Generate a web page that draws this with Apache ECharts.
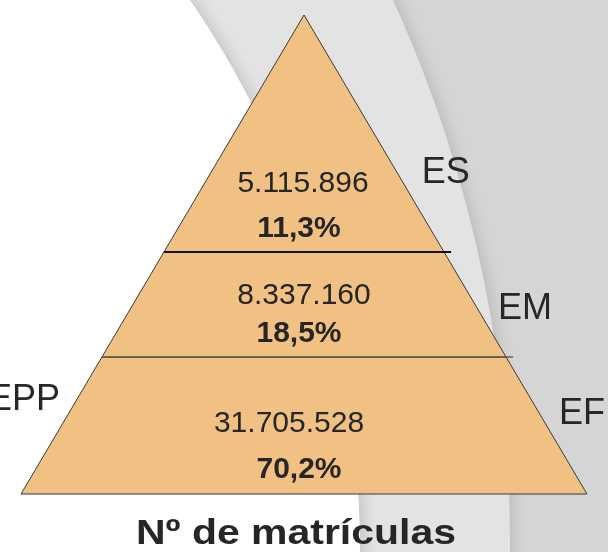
<!DOCTYPE html>
<html>
<head>
<meta charset="utf-8">
<script src="https://cdn.jsdelivr.net/npm/echarts@6/dist/echarts.min.js"></script>
<style>
  html, body { margin: 0; padding: 0; background: #fff; }
  #chart { width: 608px; height: 552px; }
</style>
</head>
<body>
<div id="chart"></div>
<script>
// levels from the base of the pyramid up
const levels = ['EF', 'EM', 'ES']
const enrolments = [31705528, 8337160, 5115896]
const shares = [70.2, 18.5, 11.3]
const leftLabel = 'EPP'
const chartTitle = 'Nº de matrículas'

// pyramid layout, in pyramid units (x: -1..1 at the base, y: 0 base .. 1 apex)
const bandTop = [0.286, 0.505, 1]
const valueY = [0.149, 0.4175, 0.65]
const shareY = [0.053, 0.338, 0.556]
const valueDx = [-15, 0, -1]
const sideY = [0.173, 0.392, 0.676]
const sideGap = [21, 22, 26]
const leftY = 0.2015

const fmtInt = n => String(n).replace(/\B(?=(\d{3})+(?!\d))/g, '.')
const fmtPct = v => v.toFixed(1).replace('.', ',') + '%'

const fill = '#F0C183'
const ink = '#262626'
const FONT = '"Liberation Sans", Arial, sans-serif'

function renderItem(params, api) {
  const i = api.value(0)
  const y0 = i ? bandTop[i - 1] : 0
  const y1 = bandTop[i]
  const pts = [[-(1 - y0), y0], [1 - y0, y0], [1 - y1, y1], [-(1 - y1), y1]].map(p => api.coord(p))
  const children = [{
    type: 'polygon',
    shape: { points: pts },
    style: { fill: fill, stroke: '#3a3a3a', lineWidth: 1 }
  }]
  if (i > 0) {
    // divider on the bottom edge, sticking out a bit on the right
    children.push({
      type: 'line',
      shape: { x1: pts[0][0], y1: pts[0][1], x2: pts[1][0] + 7, y2: pts[1][1] },
      style: i === 2 ? { stroke: '#111', lineWidth: 2 } : { stroke: '#6a5d4c', lineWidth: 1.5 }
    })
  }
  const cv = api.coord([0, valueY[i]])
  const cs = api.coord([0, shareY[i]])
  children.push({
    type: 'text',
    style: {
      text: fmtInt(enrolments[i]), x: cv[0] + valueDx[i], y: cv[1] + 1.5,
      align: 'center', verticalAlign: 'middle',
      font: 'normal 30px ' + FONT, fill: ink
    }
  })
  children.push({
    type: 'text',
    style: {
      text: fmtPct(shares[i]), x: cs[0] - 5, y: cs[1] + 1.5,
      align: 'center', verticalAlign: 'middle',
      font: 'bold 30px ' + FONT, fill: ink
    }
  })
  const sr = api.coord([1 - sideY[i], sideY[i]])
  children.push({
    type: 'text',
    style: {
      text: levels[i], x: sr[0] + sideGap[i], y: sr[1] + 2.5,
      align: 'left', verticalAlign: 'middle',
      font: 'normal 36px ' + FONT, fill: ink
    }
  })
  if (i === 0) {
    const sl = api.coord([-(1 - leftY), leftY])
    children.push({
      type: 'text',
      style: {
        text: leftLabel, x: sl[0] - 18, y: sl[1] + 2.5,
        align: 'right', verticalAlign: 'middle',
        font: 'normal 36px ' + FONT, fill: ink
      }
    })
  }
  return { type: 'group', children: children }
}

const option = {
  animation: false,
  backgroundColor: '#d5d5d5',
  graphic: [
    // slide background: two large curved bands
    {
      type: 'circle', z: -10, silent: true,
      shape: { cx: -795, cy: 540, r: 1305 },
      style: { fill: '#e3e3e3', shadowBlur: 14, shadowOffsetX: 4, shadowColor: 'rgba(0,0,0,0.12)' }
    },
    {
      type: 'circle', z: -9, silent: true,
      shape: { cx: -615, cy: 550, r: 975 },
      style: { fill: '#ffffff', shadowBlur: 14, shadowOffsetX: 4, shadowColor: 'rgba(0,0,0,0.14)' }
    },
    // title is set a little wider than the plain font
    {
      type: 'text', z: 10, silent: true,
      x: 296, y: 534, scaleX: 1.17,
      style: {
        text: chartTitle, x: 0, y: 0,
        align: 'center', verticalAlign: 'middle',
        font: 'bold 35px ' + FONT, fill: ink
      }
    }
  ],
  grid: { left: 21, right: 21, top: 15, bottom: 58 },
  xAxis: { type: 'value', min: -1, max: 1, show: false },
  yAxis: { type: 'value', min: 0, max: 1, show: false },
  series: [{
    type: 'custom',
    renderItem: renderItem,
    data: levels.map((name, i) => ({ name: name, value: [i, 0] }))
  }]
}

const myChart = echarts.init(document.getElementById('chart'))
myChart.setOption(option)
window.onresize = function () {
  myChart.resize()
}
</script>
</body>
</html>
